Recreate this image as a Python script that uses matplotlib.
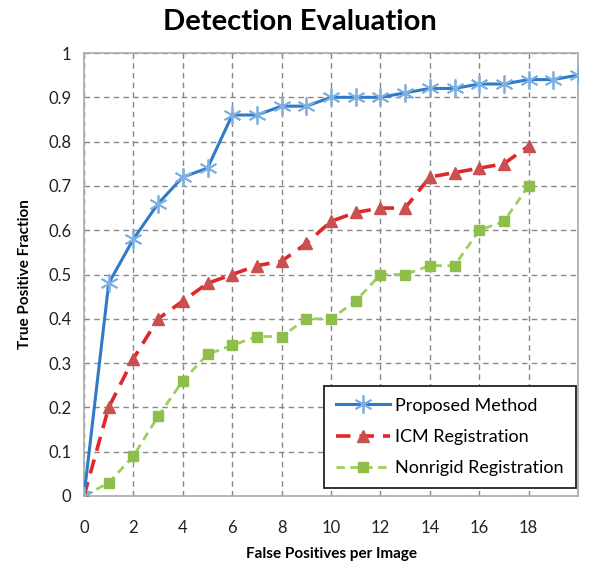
import matplotlib
matplotlib.use("Agg")
import matplotlib.pyplot as plt

plt.rcParams['font.family'] = ['Lato', 'DejaVu Sans']

x_proposed = list(range(0, 21))
proposed = [0.0, 0.48, 0.58, 0.66, 0.72, 0.74, 0.86, 0.86, 0.88, 0.88, 0.90,
            0.90, 0.90, 0.91, 0.92, 0.92, 0.93, 0.93, 0.94, 0.94, 0.95]
x_icm = list(range(0, 19))
icm = [0.0, 0.20, 0.31, 0.40, 0.44, 0.48, 0.50, 0.52, 0.53, 0.57, 0.62,
       0.64, 0.65, 0.65, 0.72, 0.73, 0.74, 0.75, 0.79]
x_nonrigid = list(range(0, 19))
nonrigid = [0.0, 0.03, 0.09, 0.18, 0.26, 0.32, 0.34, 0.36, 0.36, 0.40, 0.40,
            0.44, 0.50, 0.50, 0.52, 0.52, 0.60, 0.62, 0.70]

x_ticks = list(range(0, 20, 2))
y_ticks = [i / 10 for i in range(0, 11)]
y_ticklabels = ['0', '0.1', '0.2', '0.3', '0.4', '0.5', '0.6', '0.7', '0.8', '0.9', '1']

fig = plt.figure(figsize=(6.0, 5.72), dpi=100)
ax = fig.add_axes([84/600, 1 - 496/572, (578-84)/600, (496-53)/572])

ax.plot(x_proposed, proposed, color='#2f7bc8', lw=2.2, marker=(6, 2, 0), ms=13,
        mec='#7fb0e0', mew=1.3, label='Proposed Method', zorder=5)
ax.plot(x_icm, icm, color='#e0282a', lw=2.6, ls=(0, (4, 2.5)), marker='^', ms=9,
        mfc='#c9504e', mec='#c9504e', label='ICM Registration', zorder=4)
ax.plot(x_nonrigid, nonrigid, color='#9bd05a', lw=2.0, ls=(0, (3, 2)), marker='s', ms=7,
        mfc='#8fbf4a', mec='#8fbf4a', label='Nonrigid Registration', zorder=3)

ax.set_xlim(0, 20)
ax.set_ylim(0, 1)
ax.set_yticks(y_ticks)
ax.set_yticklabels(y_ticklabels)
ax.set_xticks(range(0, 21, 2))
ax.set_xticklabels([str(v) for v in x_ticks] + [''])
ax.tick_params(axis='y', length=0, labelsize=12, colors='#222222', pad=9)
ax.tick_params(axis='x', length=0, labelsize=12, colors='#222222', pad=17)

ax.grid(True, color='#888888', ls=(0, (4, 3)), lw=1.0)
for s in ax.spines.values():
    s.set_color('#aaaaaa')
    s.set_linewidth(1.2)

ax.set_xlabel('False Positives per Image', fontsize=11, fontweight='bold', labelpad=8)
ax.set_ylabel('True Positive Fraction', fontsize=11, fontweight='bold', labelpad=12)
fig.text(0.5, 1 - 22/572, 'Detection Evaluation', ha='center', va='center',
         fontsize=21, fontweight='bold')

leg = ax.legend(loc='lower right', bbox_to_anchor=(0.995, 0.018), fontsize=13,
                frameon=True, fancybox=False, edgecolor='#222222', framealpha=1,
                borderpad=0.65, labelspacing=0.85, handlelength=3.0, handletextpad=0.3,
                borderaxespad=0)
leg.get_frame().set_linewidth(1.3)

fig.savefig('out.png', dpi=100)
